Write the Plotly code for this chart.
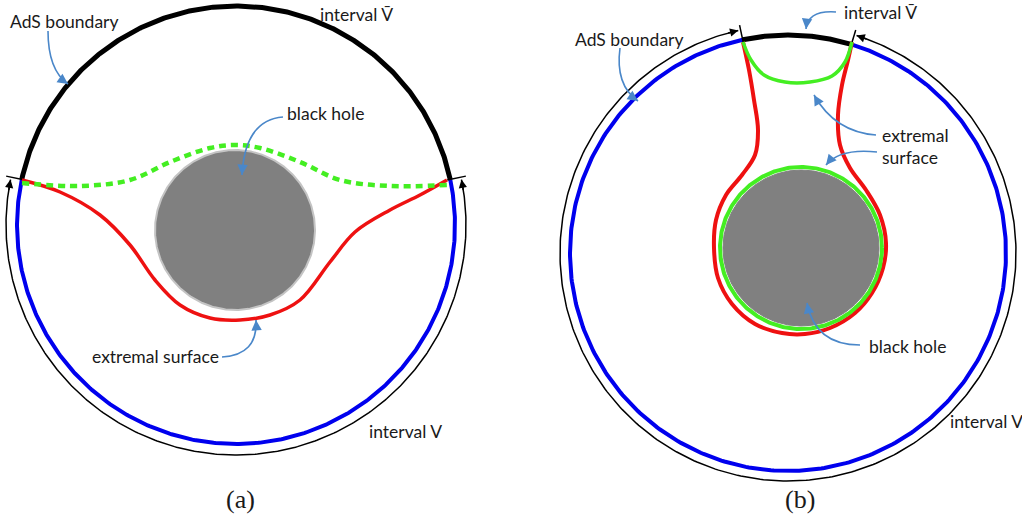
import numpy as np
import plotly.graph_objects as go

W, H = 1022, 523

# ---------------- diagram data (pixel space) ----------------
# AdS boundary circles (panel a, panel b)
ads_cx = [236, 788]
ads_cy = [225, 253]
ads_r = [219, 218]
outer_gap = [11, 10]            # offset of the thin "interval V" arc
vbar_from_deg = [12.0, 73.1]    # interval V-bar (thick black arc) limits
vbar_to_deg = [168.0, 102.0]

# black holes
bh_cx = [235, 801]
bh_cy = [230, 248]
bh_r = [80, 78]
green_ring_r = 81               # extremal surface around the hole (panel b)

# extremal surfaces
red_a_x = [22, 60, 100, 130, 155, 180, 210, 240, 270, 300, 330, 355, 390, 420, 447]
red_a_y = [180, 192, 215, 245, 280, 305, 318, 320, 315, 300, 262, 232, 210, 195, 180]
green_a_x = [22, 80, 130, 170, 210, 235, 260, 300, 340, 390, 447]
green_a_y = [183, 186, 180, 162, 148, 145, 148, 162, 180, 186, 185]

red_b_x = [743, 749, 754, 758, 755, 742, 726, 716, 714, 718, 732, 755, 782, 805, 830,
           855, 872, 883, 886, 880, 866, 850, 840, 838, 842, 848, 852]
red_b_y = [42, 70, 100, 130, 155, 175, 195, 220, 248, 278, 304, 324, 333, 334, 328,
           313, 293, 268, 243, 215, 190, 168, 145, 115, 85, 60, 42]
green_b_x = [743, 751, 764, 785, 810, 832, 845, 852]
green_b_y = [42, 60, 75, 82, 82, 76, 62, 42]

# labels
label_text = ["AdS boundary", "interval V\u0304", "black hole", "extremal surface", "interval V",
              "interval V\u0304", "AdS boundary", "extremal", "surface", "black hole", "interval V"]
label_x = [8, 318, 285, 90, 367, 842, 573, 880, 880, 867, 948]
label_y = [21, 14, 113, 356, 431, 12, 39, 135, 157, 346, 421]
panel_text = ["(a)", "(b)"]
panel_x = [240, 800]
panel_y = [499, 499]

# curved pointer arrows (quadratic Bezier: start, control, tip)
arrow_p0 = [(48, 31), (283, 117), (222, 357), (836, 12), (620, 48), (876, 135), (877, 152), (860, 345)]
arrow_p1 = [(48, 70), (245, 120), (258, 355), (808, 10), (615, 85), (835, 132), (840, 148), (815, 345)]
arrow_p2 = [(68, 84), (242, 175), (256, 320), (806, 29), (638, 101), (814, 95), (826, 165), (807, 303)]

BLUE = "#0000ee"
RED = "#ee1111"
GREEN = "#44ee22"
GRAY = "#808080"
ARROW = "#4a87c9"
TXT = "#1a1a1a"

fig = go.Figure()


def arc(cx, cy, r, a0, a1, n=400):
    t = np.radians(np.linspace(a0, a1, n))
    return cx + r * np.cos(t), cy - r * np.sin(t)


def line(x, y, color, width, dash="solid", shape="linear"):
    fig.add_trace(go.Scatter(x=x, y=y, mode="lines", hoverinfo="skip",
                             line=dict(color=color, width=width, dash=dash, shape=shape)))


annotations = []

for i in range(2):
    cx, cy, r = ads_cx[i], ads_cy[i], ads_r[i]
    a0, a1 = vbar_from_deg[i], vbar_to_deg[i]
    # interval V (blue part of the boundary)
    x, y = arc(cx, cy, r, a1, a0 + 360)
    line(x, y, BLUE, 4)
    # interval V-bar (thick black)
    x, y = arc(cx, cy, r, a0, a1)
    line(x, y, "black", 5)
    # thin outer arc with arrowheads
    ro = r + outer_gap[i]
    s, e = a1 + 0.6, a0 + 360 - 0.6
    x, y = arc(cx, cy, ro, s, e)
    line(x, y, "black", 1.5)
    for tip, back in ((s, s + 3), (e, e - 3)):
        tx, ty = arc(cx, cy, ro, tip, tip, 1)
        bx, by = arc(cx, cy, ro, back, back, 1)
        annotations.append(dict(x=tx[0], y=ty[0], ax=bx[0], ay=by[0], xref="x", yref="y",
                                axref="x", ayref="y", text="", showarrow=True, arrowhead=2,
                                arrowsize=1.1, arrowwidth=1.5, arrowcolor="black"))
    # radial tick marks at the interval endpoints
    for a in (a0, a1):
        t = np.radians(a)
        rr = np.array([r - 3, ro + 5])
        line(cx + rr * np.cos(t), cy - rr * np.sin(t), "black", 1.5)

# black hole (a)
x, y = arc(bh_cx[0], bh_cy[0], bh_r[0], 0, 360)
fig.add_trace(go.Scatter(x=x, y=y, mode="lines", fill="toself", fillcolor=GRAY,
                         line=dict(color="#c4c4c4", width=2), hoverinfo="skip"))
line(red_a_x, red_a_y, RED, 3.5, shape="spline")
line(green_a_x, green_a_y, GREEN, 4.5, dash="7px,5px", shape="spline")

# black hole (b)
x, y = arc(bh_cx[1], bh_cy[1], bh_r[1], 0, 360)
fig.add_trace(go.Scatter(x=x, y=y, mode="lines", fill="toself", fillcolor=GRAY,
                         line=dict(color=GRAY, width=1), hoverinfo="skip"))
line(red_b_x, red_b_y, RED, 4, shape="spline")
x, y = arc(bh_cx[1], bh_cy[1], green_ring_r, 0, 360)
line(x, y, GREEN, 4)
line(green_b_x, green_b_y, GREEN, 3.5, shape="spline")

# pointer arrows
shapes = []
for p0, p1, p2 in zip(arrow_p0, arrow_p1, arrow_p2):
    shapes.append(dict(type="path", xref="x", yref="y",
                       path=f"M {p0[0]},{p0[1]} Q {p1[0]},{p1[1]} {p2[0]},{p2[1]}",
                       line=dict(color=ARROW, width=1.6)))
    d = np.array(p2, float) - np.array(p1, float)
    d /= np.linalg.norm(d)
    annotations.append(dict(x=p2[0], y=p2[1], ax=p2[0] - 5 * d[0], ay=p2[1] - 5 * d[1],
                            xref="x", yref="y", axref="x", ayref="y", text="", showarrow=True,
                            arrowhead=2, arrowsize=1.3, arrowwidth=1.6, arrowcolor=ARROW))

for t, x, y in zip(label_text, label_x, label_y):
    annotations.append(dict(x=x, y=y, text=t, showarrow=False, xanchor="left", yanchor="middle",
                            font=dict(family="Lato, Open Sans, sans-serif", size=17.5, color=TXT)))
for t, x, y in zip(panel_text, panel_x, panel_y):
    annotations.append(dict(x=x, y=y, text=t, showarrow=False, xanchor="center", yanchor="middle",
                            font=dict(family="Liberation Serif, DejaVu Serif, serif", size=26,
                                      color=TXT)))

fig.update_layout(
    width=W, height=H, margin=dict(l=0, r=0, t=0, b=0),
    paper_bgcolor="white", plot_bgcolor="white", showlegend=False,
    xaxis=dict(range=[0, W], visible=False, fixedrange=True),
    yaxis=dict(range=[H, 0], visible=False, fixedrange=True),
    shapes=shapes, annotations=annotations,
)

fig.write_html("out.html", config={"displayModeBar": False},
               post_script="document.body.style.margin='0';"
                           "document.body.style.overflow='hidden';")
